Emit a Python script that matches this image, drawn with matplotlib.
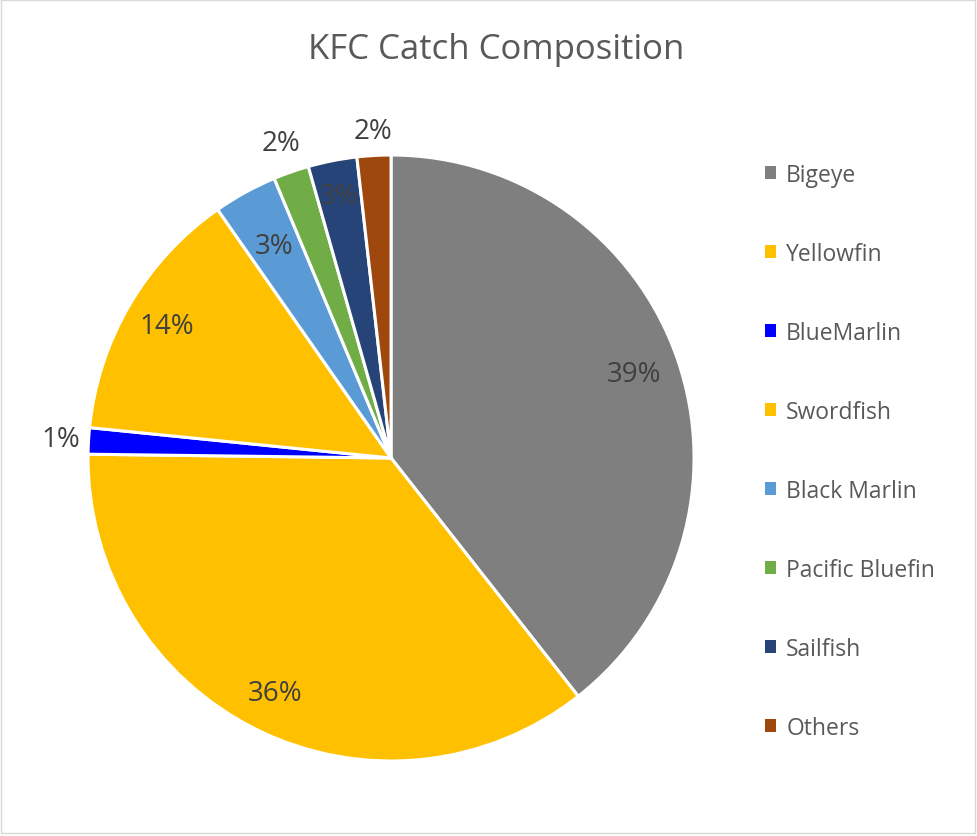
import numpy as np
import matplotlib.pyplot as plt
from matplotlib.patches import Rectangle

# Données (en %)
especes = ['Bigeye', 'Yellowfin', 'BlueMarlin', 'Swordfish',
           'Black Marlin', 'Pacific Bluefin', 'Sailfish', 'Others']
parts = [39.4, 35.8, 1.4, 13.7, 3.4, 1.9, 2.6, 1.8]
couleurs = ['#7F7F7F', '#FFC000', '#0000FF', '#FFC000',
            '#5B9BD5', '#70AD47', '#264478', '#9E480E']
# distance des étiquettes (fraction du rayon)
dist_etiq = [0.85, 0.865, 1.09, 0.86, 0.80, 1.10, 0.88, 1.08]

plt.rcParams['font.family'] = ['Open Sans', 'DejaVu Sans']

fig = plt.figure(figsize=(9.77, 8.37), dpi=100)
ax = fig.add_axes([0.0901, 0.0896, 0.6203, 0.724])

wedges, _ = ax.pie(parts, colors=couleurs, startangle=90, counterclock=False,
                   wedgeprops=dict(edgecolor='white', linewidth=2.2))
ax.set_xlim(-1, 1)
ax.set_ylim(-1, 1)
ax.set_aspect('equal')
ax.axis('off')

# Étiquettes de pourcentage
for w, p, d in zip(wedges, parts, dist_etiq):
    ang = np.deg2rad((w.theta1 + w.theta2) / 2)
    ax.text(d * np.cos(ang), d * np.sin(ang), f'{round(p):.0f}%',
            ha='center', va='center', fontsize=20, color='#404040')

fig.text(0.508, 0.94, 'KFC Catch Composition', ha='center', va='center',
         fontsize=25, color='#595959')

leg = fig.legend(wedges, especes, loc='upper left', bbox_to_anchor=(0.762, 0.829),
                 frameon=False, fontsize=16.5, labelspacing=2.40,
                 handlelength=0.47, handleheight=0.47, handletextpad=0.45)
for t in leg.get_texts():
    t.set_color('#595959')
for h in leg.legend_handles:
    h.set_edgecolor('none')

# Cadre du graphique
fig.patches.append(Rectangle((0.001, 0.003), 0.997, 0.996, transform=fig.transFigure,
                             fill=False, edgecolor='#D9D9D9', linewidth=1))

fig.savefig('out.png', dpi=100)
